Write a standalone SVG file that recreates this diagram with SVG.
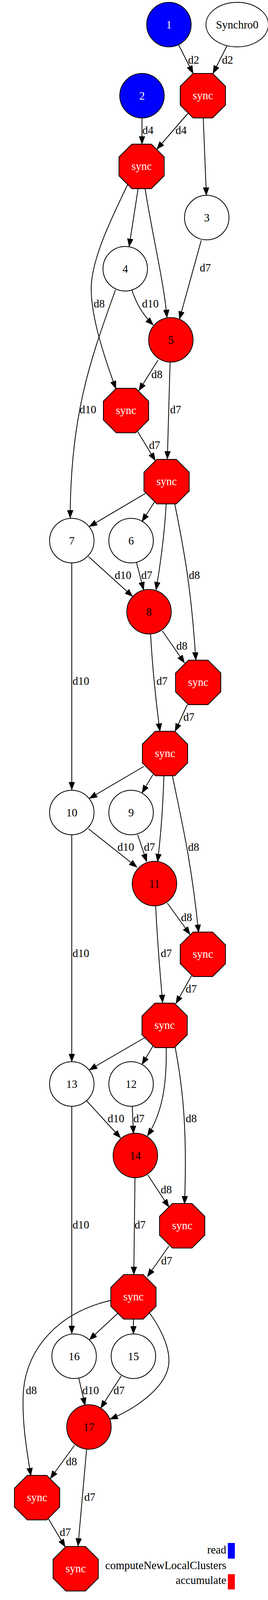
<svg xmlns="http://www.w3.org/2000/svg" width="687" height="4235" viewBox="0 0 687 4235">
<style>
text{font-family:"Liberation Serif","Times New Roman",serif;font-size:28.5px;fill:#000}
.n{stroke:#000;stroke-width:2}
.w{fill:#fff}
.r{fill:#f00}
.b{fill:#00f}
.c{text-anchor:middle}
.tw{fill:#fff}
.e path{fill:none;stroke:#000;stroke-width:2;marker-end:url(#ah)}
.lg{text-anchor:end}
</style>
<defs>
<marker id="ah" markerUnits="userSpaceOnUse" markerWidth="22" markerHeight="16" refX="20" refY="7.5" orient="auto" viewBox="0 0 22 16"><path d="M0,0 L20,7.5 L0,15 z" fill="#000" stroke="#000" stroke-width="1"/></marker>
<polygon id="oct" points="-25,-57 25,-57 58,-24 58,24 25,57 -25,57 -58,24 -58,-24"/>
</defs>
<rect width="687" height="4235" fill="#fff"/>

<g id="n1"><circle class="n b" cx="433" cy="63" r="57"/><text class="c tw" x="433" y="73">1</text></g>
<g id="synchro0"><ellipse class="n w" cx="608" cy="63" rx="80" ry="57"/><text class="c" x="608" y="73">Synchro0</text></g>
<g id="sA"><use href="#oct" x="520" y="245" class="n r"/><text class="c tw" x="520" y="254">sync</text></g>
<g id="n2"><circle class="n b" cx="364" cy="245" r="57"/><text class="c tw" x="364" y="255">2</text></g>
<g id="sB"><use href="#oct" x="363" y="426" class="n r"/><text class="c tw" x="363" y="435">sync</text></g>
<g id="n3"><circle class="n w" cx="530" cy="557" r="57"/><text class="c" x="530" y="567">3</text></g>
<g id="n4"><circle class="n w" cx="321" cy="688" r="57"/><text class="c" x="321" y="698">4</text></g>
<g id="n5"><circle class="n r" cx="438" cy="870" r="57"/><text class="c" x="438" y="880">5</text></g>
<g id="sC"><use href="#oct" x="323" y="1051" class="n r"/><text class="c tw" x="323" y="1060">sync</text></g>
<g id="sD"><use href="#oct" x="427" y="1233" class="n r"/><text class="c tw" x="427" y="1242">sync</text></g>
<g id="n7"><circle class="n w" cx="184" cy="1384" r="57"/><text class="c" x="184" y="1394">7</text></g>
<g id="n6"><circle class="n w" cx="336" cy="1384" r="57"/><text class="c" x="336" y="1394">6</text></g>
<g id="n8"><circle class="n r" cx="382" cy="1566" r="57"/><text class="c" x="382" y="1576">8</text></g>
<g id="sE"><use href="#oct" x="508" y="1747" class="n r"/><text class="c tw" x="508" y="1756">sync</text></g>
<g id="sF"><use href="#oct" x="423" y="1929" class="n r"/><text class="c tw" x="423" y="1938">sync</text></g>
<g id="n10"><circle class="n w" cx="184" cy="2080" r="57"/><text class="c" x="184" y="2090">10</text></g>
<g id="n9"><circle class="n w" cx="336" cy="2080" r="57"/><text class="c" x="336" y="2090">9</text></g>
<g id="n11"><circle class="n r" cx="396" cy="2262" r="57"/><text class="c" x="396" y="2272">11</text></g>
<g id="sG"><use href="#oct" x="520" y="2443" class="n r"/><text class="c tw" x="520" y="2452">sync</text></g>
<g id="sH"><use href="#oct" x="422" y="2625" class="n r"/><text class="c tw" x="422" y="2634">sync</text></g>
<g id="n13"><circle class="n w" cx="184" cy="2775" r="57"/><text class="c" x="184" y="2785">13</text></g>
<g id="n12"><circle class="n w" cx="336" cy="2775" r="57"/><text class="c" x="336" y="2785">12</text></g>
<g id="n14"><circle class="n r" cx="347" cy="2958" r="57"/><text class="c" x="347" y="2968">14</text></g>
<g id="sI"><use href="#oct" x="467" y="3138" class="n r"/><text class="c tw" x="467" y="3147">sync</text></g>
<g id="sJ"><use href="#oct" x="342" y="3320" class="n r"/><text class="c tw" x="342" y="3329">sync</text></g>
<g id="n16"><circle class="n w" cx="190" cy="3472" r="57"/><text class="c" x="190" y="3482">16</text></g>
<g id="n15"><circle class="n w" cx="342" cy="3472" r="57"/><text class="c" x="342" y="3482">15</text></g>
<g id="n17"><circle class="n r" cx="228" cy="3653" r="57"/><text class="c" x="228" y="3663">17</text></g>
<g id="sK"><use href="#oct" x="95" y="3834" class="n r"/><text class="c tw" x="95" y="3843">sync</text></g>
<g id="sL"><use href="#oct" x="194" y="4016" class="n r"/><text class="c tw" x="194" y="4025">sync</text></g>

<g id="connectors" class="e">
<path d="M458,115 L495,188"/><text x="482" y="163">d2</text>
<path d="M582,117 L546,188"/><text x="569" y="163">d2</text>
<path d="M364,302 L364,369"/><text x="365" y="343">d4</text>
<path d="M482,290 L402,382"/><text x="450" y="343">d4</text>
<path d="M521,302 L529,500"/>
<path d="M354,483 L331,631"/>
<path d="M327,473 C280,570 238,660 234,730 C231,800 262,900 297,995"/><text x="240" y="787">d8</text>
<path d="M372,483 C390,600 420,720 428,813"/>
<path d="M516,615 L460,817"/><text x="512" y="695">d7</text>
<path d="M338,742 C350,780 370,810 393,832"/><text x="364" y="787">d10</text>
<path d="M296,742 C240,900 180,1050 180,1326"/><text x="204" y="1058">d10</text>
<path d="M405,922 L356,1000"/><text x="388" y="968">d8</text>
<path d="M436,927 L429,1175"/><text x="436" y="1058">d7</text>
<path d="M353,1105 L398,1179"/><text x="382" y="1149">d7</text>
<path d="M373,1263 L229,1348"/>
<path d="M396,1285 L364,1335"/>
<path d="M426,1290 C422,1360 412,1440 400,1510"/>
<path d="M448,1290 C470,1400 490,1500 502,1690"/><text x="484" y="1482">d8</text>
<path d="M227,1425 L340,1527"/><text x="294" y="1482">d10</text>
<path d="M350,1440 L368,1510"/><text x="362" y="1482">d7</text>
<path d="M416,1615 L473,1697"/><text x="452" y="1663">d8</text>
<path d="M386,1623 C390,1700 400,1800 410,1872"/><text x="401" y="1753">d7</text>
<path d="M184,1441 L184,2022"/><text x="186" y="1753">d10</text>
<path d="M480,1804 L449,1872"/><text x="470" y="1845">d7</text>
<path d="M369,1962 L229,2044"/>
<path d="M392,1983 L364,2030"/>
<path d="M420,1986 C418,2060 412,2140 404,2206"/>
<path d="M442,1986 C465,2100 490,2200 509,2387"/><text x="482" y="2178">d8</text>
<path d="M227,2122 L351,2220"/><text x="301" y="2178">d10</text>
<path d="M353,2137 L376,2206"/><text x="369" y="2178">d7</text>
<path d="M429,2312 L487,2392"/><text x="464" y="2358">d8</text>
<path d="M399,2319 C403,2400 410,2490 417,2567"/><text x="412" y="2450">d7</text>
<path d="M184,2137 L184,2718"/><text x="186" y="2450">d10</text>
<path d="M491,2498 L451,2569"/><text x="476" y="2541">d7</text>
<path d="M370,2657 L229,2739"/>
<path d="M392,2678 L364,2725"/>
<path d="M426,2681 C428,2780 415,2850 378,2908"/>
<path d="M449,2681 C470,2790 480,2900 473,3082"/><text x="476" y="2873">d8</text>
<path d="M222,2818 L309,2913"/><text x="276" y="2873">d10</text>
<path d="M339,2832 L342,2902"/><text x="342" y="2873">d7</text>
<path d="M379,3008 L433,3090"/><text x="412" y="3055">d8</text>
<path d="M346,3015 L343,3263"/><text x="345" y="3145">d7</text>
<path d="M184,2832 L184,3414"/><text x="186" y="3145">d10</text>
<path d="M433,3190 L378,3268"/><text x="413" y="3237">d7</text>
<path d="M302,3362 L229,3430"/>
<path d="M342,3377 L342,3415"/>
<path d="M284,3329 C150,3360 70,3450 60,3560 C55,3640 70,3720 79,3778"/><text x="66" y="3569">d8</text>
<path d="M384,3362 C425,3420 440,3470 430,3505 C415,3560 340,3610 282,3633"/>
<path d="M202,3528 L218,3598"/><text x="211" y="3569">d10</text>
<path d="M311,3522 L258,3605"/><text x="291" y="3569">d7</text>
<path d="M191,3700 L129,3785"/><text x="169" y="3751">d8</text>
<path d="M222,3710 L200,3958"/><text x="216" y="3842">d7</text>
<path d="M124,3888 L167,3960"/><text x="153" y="3932">d7</text>
</g>

<g id="legend">
<text class="lg" x="580" y="3977">read</text>
<rect x="584" y="3950" width="18" height="40" fill="#00f"/>
<text class="lg" x="580" y="4017">computeNewLocalClusters</text>
<text class="lg" x="580" y="4055">accumulate</text>
<rect x="584" y="4030" width="18" height="39" fill="#f00"/>
</g>
</svg>
